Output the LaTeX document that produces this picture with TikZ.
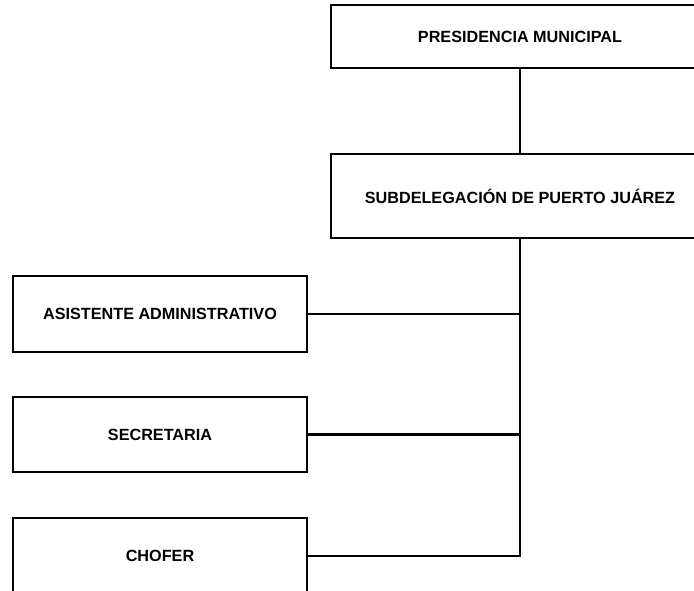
\documentclass[tikz,border=0pt]{standalone}
\usepackage{fontspec}
\setmainfont{Liberation Sans}
\usetikzlibrary{positioning,calc}

\begin{document}
\begin{tikzpicture}[x=1pt,y=1pt,
    box/.style={draw, line width=1.2pt, inner sep=0pt, font=\fontsize{16.2}{19}\selectfont\bfseries},
    link/.style={line width=2.6pt}]
    \useasboundingbox (0,0) rectangle (694,-591);

    % Head boxes
    \node[box, minimum width=378pt, minimum height=63pt] (pres) at (520,-36.5) {PRESIDENCIA MUNICIPAL};
    \node[box, minimum width=378pt, minimum height=84pt] (sub) at (520,-196) {SUBDELEGACIÓN DE PUERTO JUÁREZ};

    % Staff boxes
    \node[box, minimum width=294pt, minimum height=76pt] (asist) at (160,-314) {ASISTENTE ADMINISTRATIVO};
    \node[box, minimum width=294pt, minimum height=75pt] (secre) at (160,-434.5) {SECRETARIA};
    \node[box, minimum width=294pt, minimum height=76pt] (chofer) at (160,-556) {CHOFER};

    % Connectors
    \draw[link] (pres.south) -- (sub.north);
    \draw[link] (sub.south) -- (sub.south |- chofer.east) -- (chofer.east);
    \draw[link] (asist.east) -- (asist.east -| sub.south);
    \draw[link] (secre.east) -- (secre.east -| sub.south);
\end{tikzpicture}
\end{document}
